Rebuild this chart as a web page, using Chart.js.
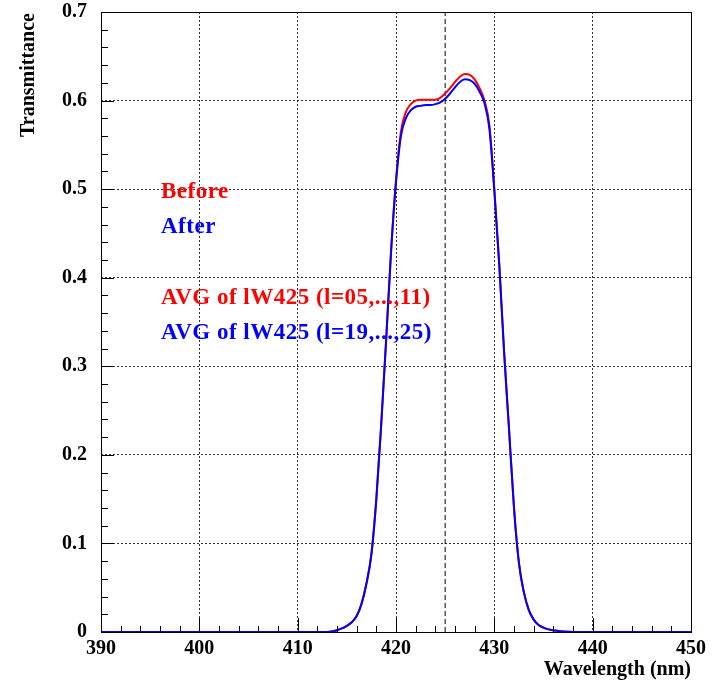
<!DOCTYPE html>
<html>
<head>
<meta charset="utf-8">
<script src="https://cdn.jsdelivr.net/npm/chart.js@4"></script>
<style>
    body { margin: 0; background: #fff; }
    #wrap { width: 712px; height: 684px; }
</style>
</head>
<body>
<div id="wrap"><canvas id="transChart" width="712" height="684"></canvas></div>
<script>
// wavelength grid (nm) and transmittance
const wavelength = [390, 412, 413, 413.5, 414, 414.5, 415, 415.5, 416, 416.5, 417, 417.5, 418, 418.5, 419, 419.5,
    420, 420.5, 421, 421.5, 422, 422.5, 423, 423.5, 424, 424.5, 425, 425.5, 426, 426.5, 427, 427.5,
    428, 428.5, 429, 429.5, 430, 430.5, 431, 431.5, 432, 432.5, 433, 433.5, 434, 434.5, 435, 435.5,
    436, 436.5, 437, 438, 450];
const before = [0, 0, 0, 0.0005, 0.002, 0.004, 0.007, 0.011, 0.018, 0.032, 0.055, 0.088, 0.15, 0.235, 0.33, 0.43,
    0.51, 0.565, 0.587, 0.596, 0.6, 0.601, 0.601, 0.601, 0.601, 0.603, 0.608, 0.614, 0.621, 0.627, 0.63, 0.629,
    0.624, 0.614, 0.6, 0.572, 0.5, 0.415, 0.315, 0.228, 0.14, 0.078, 0.045, 0.025, 0.014, 0.008, 0.005, 0.003,
    0.002, 0.001, 0.0005, 0, 0];
const after = [0, 0, 0, 0.0005, 0.002, 0.004, 0.007, 0.011, 0.018, 0.032, 0.055, 0.088, 0.15, 0.235, 0.33, 0.43,
    0.508, 0.56, 0.58, 0.589, 0.593, 0.594, 0.595, 0.595, 0.596, 0.598, 0.602, 0.608, 0.615, 0.621, 0.624, 0.623,
    0.619, 0.61, 0.597, 0.568, 0.498, 0.415, 0.315, 0.228, 0.14, 0.078, 0.045, 0.025, 0.014, 0.008, 0.005, 0.003,
    0.002, 0.001, 0.0005, 0, 0];
const centerLine = [425];
const xRange = [390, 450];
const yRange = [0, 0.7];
const labels = [
    { text: 'Before', color: '#ff0000' },
    { text: 'After', color: '#0000ff' },
    { text: 'AVG of lW425 (l=05,...,11)', color: '#ff0000' },
    { text: 'AVG of lW425 (l=19,...,25)', color: '#0000ff' }
];

const serif = '"Liberation Serif", "Times New Roman", serif';

function toPoints(xs, ys) {
    return xs.map((x, i) => ({ x: x, y: ys[i] }));
}

// frame, inner ticks, axis titles and text labels
const decor = {
    id: 'decor',
    afterDraw(chart) {
        const ctx = chart.ctx;
        const a = chart.chartArea;
        const xs = chart.scales.x;
        const ys = chart.scales.y;
        ctx.save();
        ctx.strokeStyle = '#000';
        ctx.lineWidth = 1;
        ctx.beginPath();
        for (let v = xRange[0]; v <= xRange[1]; v += 2) {
            const px = Math.round(xs.getPixelForValue(v)) + 0.5;
            const len = (v % 10 === 0) ? 14 : 6;
            ctx.moveTo(px, a.bottom);
            ctx.lineTo(px, a.bottom - len);
        }
        for (let i = 0; i <= 35; i++) {
            const py = Math.round(ys.getPixelForValue(i * 0.02)) + 0.5;
            const len = (i % 5 === 0) ? 13 : 7;
            ctx.moveTo(a.left, py);
            ctx.lineTo(a.left + len, py);
        }
        ctx.stroke();
        ctx.strokeRect(Math.round(a.left) + 0.5, Math.round(a.top) + 0.5,
            Math.round(a.right - a.left), Math.round(a.bottom - a.top));

        ctx.fillStyle = '#000';
        ctx.font = 'bold 20px ' + serif;
        ctx.textAlign = 'right';
        ctx.textBaseline = 'alphabetic';
        ctx.fillText('Wavelength (nm)', a.right, 675);
        ctx.save();
        ctx.translate(34, 13);
        ctx.rotate(-Math.PI / 2);
        ctx.textAlign = 'right';
        ctx.fillText('Transmittance', 0, 0);
        ctx.restore();

        ctx.font = 'bold 23px ' + serif;
        ctx.letterSpacing = '0.5px';
        ctx.textAlign = 'left';
        const baselines = [198, 233, 304, 339];
        labels.forEach((l, i) => {
            ctx.fillStyle = l.color;
            ctx.fillText(l.text, 161, baselines[i]);
        });
        ctx.restore();
    }
};

const chart = new Chart(document.getElementById('transChart'), {
    type: 'scatter',
    data: {
        datasets: [
            {
                label: 'After',
                data: toPoints(wavelength, after),
                borderColor: '#0000ff',
                borderWidth: 2,
                showLine: true,
                pointRadius: 0,
                cubicInterpolationMode: 'monotone',
                order: 0
            },
            {
                label: 'Before',
                data: toPoints(wavelength, before),
                borderColor: '#ff0000',
                borderWidth: 2,
                showLine: true,
                pointRadius: 0,
                cubicInterpolationMode: 'monotone',
                order: 1
            },
            {
                label: 'center',
                data: toPoints([centerLine[0], centerLine[0]], yRange),
                borderColor: '#000',
                borderWidth: 1,
                borderDash: [5, 3],
                showLine: true,
                pointRadius: 0,
                order: 2
            }
        ]
    },
    options: {
        responsive: false,
        animation: false,
        devicePixelRatio: 1,
        layout: { padding: { left: 0, top: 12, right: 21, bottom: 0 } },
        plugins: {
            legend: { display: false },
            tooltip: { enabled: false }
        },
        scales: {
            x: {
                type: 'linear',
                min: xRange[0],
                max: xRange[1],
                afterFit: s => { s.height = 52; s.paddingLeft = 0; s.paddingRight = 0; },
                ticks: {
                    stepSize: 10,
                    color: '#000',
                    padding: 5,
                    maxRotation: 0,
                    font: { family: serif, size: 20, weight: 'bold' }
                },
                grid: {
                    color: ctx => (ctx.tick && (ctx.tick.value === xRange[0] || ctx.tick.value === xRange[1])) ? 'rgba(0,0,0,0)' : '#333',
                    drawTicks: false,
                    lineWidth: 1
                },
                border: { display: false, dash: [2, 2] }
            },
            y: {
                min: yRange[0],
                max: yRange[1],
                afterFit: s => { s.width = 101; s.paddingTop = 0; s.paddingBottom = 0; },
                ticks: {
                    stepSize: 0.1,
                    color: '#000',
                    padding: 14,
                    font: { family: serif, size: 20, weight: 'bold' },
                    callback: v => (v === 0 ? '0' : v.toFixed(1))
                },
                grid: {
                    color: ctx => (ctx.tick && (ctx.tick.value === yRange[0] || Math.abs(ctx.tick.value - yRange[1]) < 1e-9)) ? 'rgba(0,0,0,0)' : '#333',
                    drawTicks: false,
                    lineWidth: 1
                },
                border: { display: false, dash: [2, 2] }
            }
        }
    },
    plugins: [decor]
});
</script>
</body>
</html>
